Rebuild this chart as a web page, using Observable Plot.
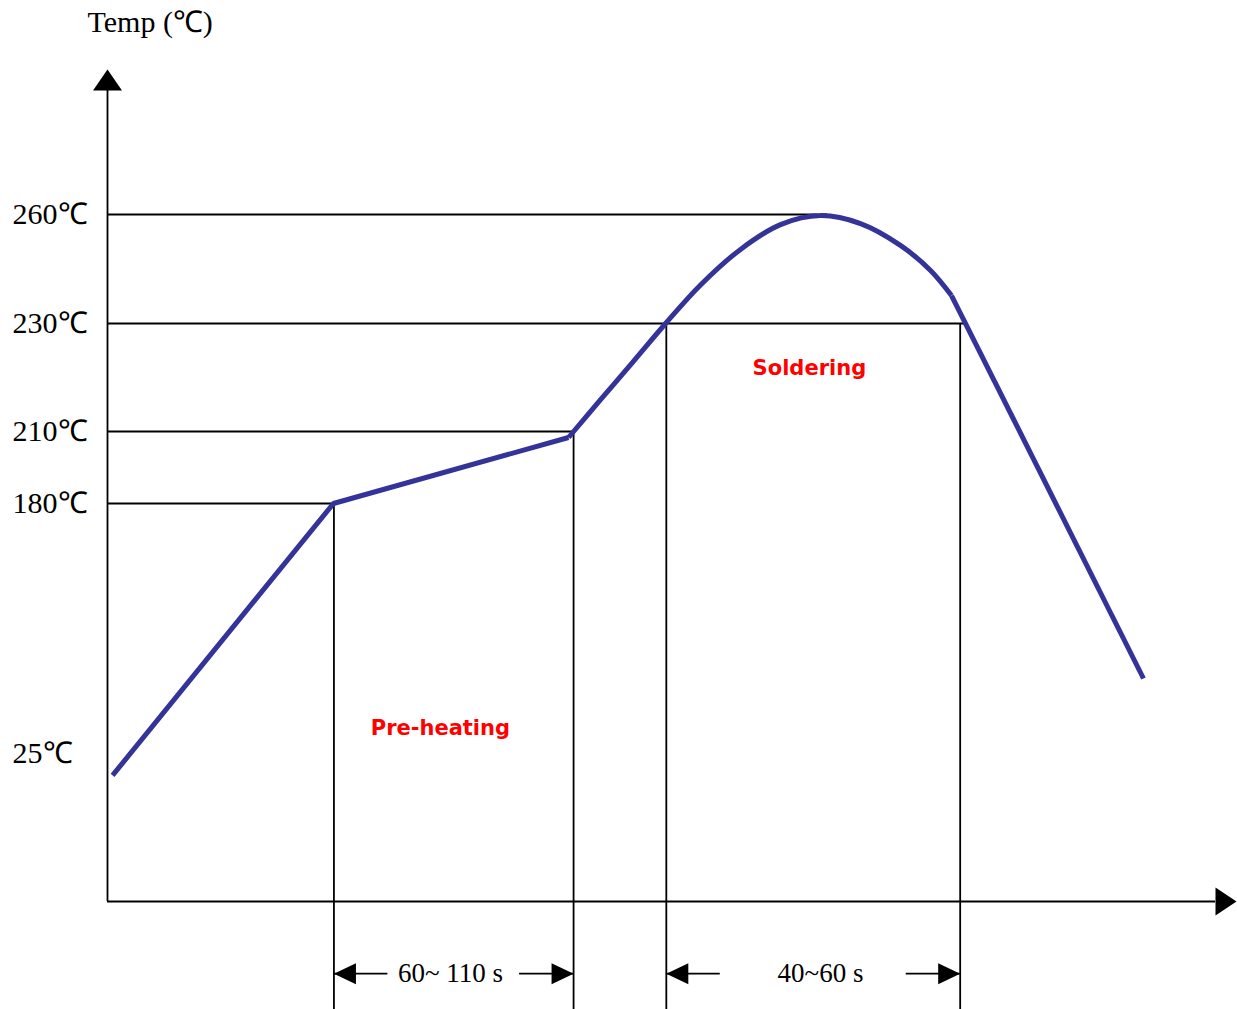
<!DOCTYPE html>
<html>
<head>
<meta charset="utf-8">
<script src="https://cdn.jsdelivr.net/npm/d3@7"></script>
<script src="https://cdn.jsdelivr.net/npm/@observablehq/plot@0.6"></script>
<style>
  html, body { margin: 0; padding: 0; background: #fff; }
  #chart svg { display: block; }
</style>
</head>
<body>
<div id="chart"></div>
<script>
// ---- Data (schematic reflow profile) ----
// temperature axis stops (schematic, non-linear spacing) and their heights on the axis
const tempStops = [0, 25, 180, 210, 230, 260];
const stopHeights = [0, 148, 398, 470, 578, 687];
const tickTemps = [25, 180, 210, 230, 260];
const tickLabels = ["25℃", "180℃", "210℃", "230℃", "260℃"];

// profile: linear ramp, smooth peak zone, linear cool-down (time in s, temp in ℃)
const rampTime = [2.1, 93.8, 191.4];
const rampTemp = [21.3, 180, 207.5];
const peakTime = [191.4, 204.7, 218.0, 231.7, 246.2, 262.8, 279.4, 296.0, 312.6, 329.2, 341.7, 350.4];
const peakTemp = [207.5, 215.9, 222.8, 230.0, 240.6, 250.4, 257.2, 259.7, 257.5, 251.5, 244.6, 237.7];
const coolTime = [350.4, 430.1];
const coolTemp = [237.7, 71.5];

// horizontal guide levels and where they stop
const levelTemp = [260, 230, 210, 180];
const levelEnd = [299, 357, 193.5, 94];

// vertical guides
const guideTime = [94, 193.5, 232, 354];
const guideTemp = [180, 210, 230, 230];

// duration annotations
const dimStart = [94, 232];
const dimEnd = [193.5, 354];
const dimLabel = ["60~ 110 s", "40~60 s"];
const dimLabelTime = [142.4, 296];

// phase labels
const phaseName = ["Pre-heating", "Soldering"];
const phaseTime = [138.2, 291.4];
const phaseTemp = [40.5, 221.7];

// ---- schematic (piecewise) temperature axis ----
const yPos = d3.scaleLinear().domain(tempStops).range(stopHeights);

// ---- Tables ----
const zip = (a, b) => a.map((v, i) => ({t: v, temp: b[i]}));
const ramp = zip(rampTime, rampTemp);
const peak = zip(peakTime, peakTemp);
const cool = zip(coolTime, coolTemp);
const levels = levelTemp.map((v, i) => ({temp: v, end: levelEnd[i]}));
const guides = guideTime.map((v, i) => ({t: v, temp: guideTemp[i]}));
const dims = dimStart.map((v, i) => ({start: v, end: dimEnd[i], label: dimLabel[i], lt: dimLabelTime[i]}));
const phases = phaseName.map((v, i) => ({name: v, t: phaseTime[i], temp: phaseTemp[i]}));
const ticks = tickTemps.map((v, i) => ({temp: v, label: tickLabels[i]}));

// ---- Custom arrowhead symbols ----
const arrowUp = {draw(ctx) { ctx.moveTo(-14.5, 0); ctx.lineTo(0, -21); ctx.lineTo(14.5, 0); ctx.closePath(); }};
const arrowRight = {draw(ctx) { ctx.moveTo(0, -14); ctx.lineTo(21, 0); ctx.lineTo(0, 14); ctx.closePath(); }};
const headLeft = {draw(ctx) { ctx.moveTo(0, 0); ctx.lineTo(22, -10.5); ctx.lineTo(22, 10.5); ctx.closePath(); }};
const headRight = {draw(ctx) { ctx.moveTo(0, 0); ctx.lineTo(-22, -10.5); ctx.lineTo(-22, 10.5); ctx.closePath(); }};

const serif = "'Liberation Serif', 'Times New Roman', serif";
const Y = d => yPos(d.temp);
const dimY = yPos(-12.2);    // row of duration annotations, below the time axis
const guideBottom = yPos(-19);
const axisTop = yPos(294.1);
const shaft = 22.4;          // shaft length in seconds
const curveStyle = {stroke: "#333399", strokeWidth: 5, strokeLinejoin: "miter", strokeLinecap: "butt"};
const ink = {stroke: "black", strokeWidth: 1.8};

const chart = Plot.plot({
  width: 1237,
  height: 1009,
  marginLeft: 107,
  marginRight: 22,
  marginTop: 0,
  marginBottom: 0,
  style: {background: "white", overflow: "visible"},
  x: {domain: [0, 460], axis: null},
  y: {domain: [-108, 901], axis: null},
  marks: [
    // guides
    Plot.ruleY(levels, {y: Y, x1: 0, x2: "end", ...ink}),
    Plot.ruleX(guides, {x: "t", y1: Y, y2: guideBottom, ...ink}),
    // axes
    Plot.ruleX([0], {x: 0, y1: 0, y2: axisTop, ...ink}),
    Plot.ruleY([0], {y: 0, x1: 0, x2: 460, ...ink}),
    Plot.dot([0], {x: 0, y: axisTop, symbol: arrowUp, fill: "black", stroke: null}),
    Plot.dot([0], {x: 460, y: 0, symbol: arrowRight, fill: "black", stroke: null}),
    // profile
    Plot.line(ramp, {x: "t", y: Y, ...curveStyle}),
    Plot.line(peak, {x: "t", y: Y, curve: "catmull-rom", ...curveStyle}),
    Plot.line(cool, {x: "t", y: Y, ...curveStyle}),
    // duration annotations
    Plot.ruleY(dims, {y: dimY, x1: "start", x2: d => d.start + shaft, ...ink}),
    Plot.ruleY(dims, {y: dimY, x1: d => d.end - shaft, x2: "end", ...ink}),
    Plot.dot(dims, {x: "start", y: dimY, symbol: headLeft, fill: "black", stroke: null}),
    Plot.dot(dims, {x: "end", y: dimY, symbol: headRight, fill: "black", stroke: null}),
    Plot.text(dims, {x: "lt", y: dimY, text: "label", fontFamily: serif, fontSize: 27, fill: "black", lineAnchor: "middle"}),
    // temperature tick labels
    Plot.text(ticks, {x: 0, y: Y, text: "label", dx: -95, textAnchor: "start", lineAnchor: "middle", fontFamily: serif, fontSize: 30, fill: "black"}),
    // axis title
    Plot.text(["Temp (℃)"], {frameAnchor: "top-left", dx: -20, dy: 22, textAnchor: "start", lineAnchor: "middle", fontFamily: serif, fontSize: 30, fill: "black"}),
    // phase labels
    Plot.text(phases, {x: "t", y: Y, text: "name", fill: "#ff0000", fontWeight: "bold", fontFamily: "'DejaVu Sans', sans-serif", fontSize: 21, lineAnchor: "middle"})
  ]
});
document.getElementById("chart").append(chart);
</script>
</body>
</html>
